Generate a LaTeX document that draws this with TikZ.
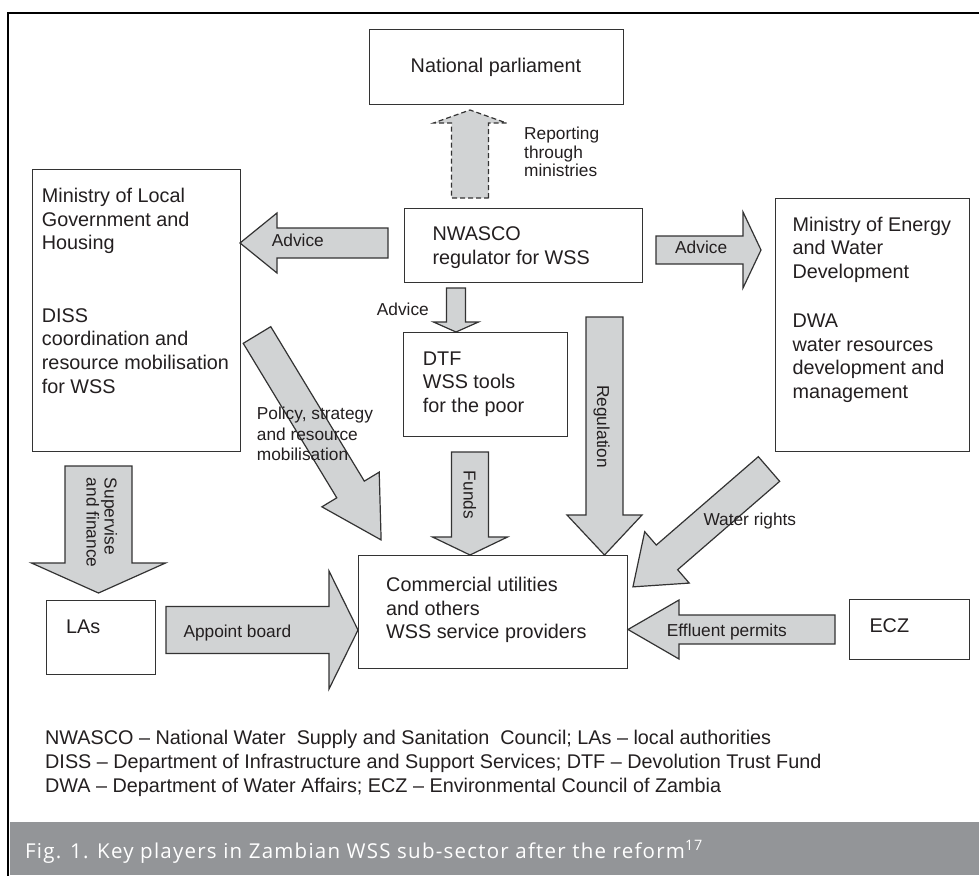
\documentclass[tikz,border=0pt]{standalone}
\usepackage{fontspec}
\setmainfont{Liberation Sans}
\newfontfamily\capfont[LetterSpace=6]{Open Sans}
\definecolor{arrowfill}{HTML}{D1D3D4}
\definecolor{capbar}{HTML}{939598}
\definecolor{linec}{HTML}{333333}
\definecolor{txt}{HTML}{231F20}
% #1 options, #2 tail point, #3 angle, #4 length, #5 shaft half width, #6 head half width, #7 head length
\newcommand\blkarrow[7]{%
  \begin{scope}[shift={#2},rotate=#3]
    \draw[#1] (0,#5) -- ({#4-#7},#5) -- ({#4-#7},#6) -- (#4,0) -- ({#4-#7},-#6) -- ({#4-#7},-#5) -- (0,-#5) -- cycle;
  \end{scope}}
\begin{document}
\begin{tikzpicture}[x=1pt,y=-1pt,
  box/.style={draw=linec, line width=1.2pt, inner sep=0, anchor=north west},
  arr/.style={draw=linec, line width=1.2pt, fill=arrowfill, line join=miter},
  big/.style={font=\fontsize{19.8}{23.6}\selectfont, inner sep=0, align=left, text=txt, anchor=base west},
  small/.style={font=\fontsize{17.3}{19}\selectfont, inner sep=0, align=left, text=txt, anchor=base west},
  vsmall/.style={font=\fontsize{17.3}{18}\selectfont, inner sep=0, align=left, text=txt, anchor=base west, rotate=-90}]
\clip (0,0) rectangle (979,875);
\fill[white] (0,0) rectangle (979,875);
% caption bar
\fill[capbar] (10,822) rectangle (979,875);
% frame
\draw[line width=2.7pt] (8,880) |- (995,13);

% boxes
\node[box, minimum width=254pt, minimum height=75pt] (np) at (369,29) {};
\node[font=\fontsize{19.8}{23.6}\selectfont, text=txt, inner sep=0, anchor=base] (npt) at (496,72) {National parliament};
\node[box, minimum width=238pt, minimum height=74pt] (nw) at (404,208) {};
\node[box, minimum width=208pt, minimum height=282pt] (lgh) at (32,169) {};
\node[box, minimum width=194pt, minimum height=253pt] (mewd) at (775,198) {};
\node[box, minimum width=164pt, minimum height=104pt] (dtf) at (403,332) {};
\node[box, minimum width=269pt, minimum height=113pt] (cu) at (358,555) {};
\node[box, minimum width=109pt, minimum height=74pt] (las) at (46,600) {};
\node[box, minimum width=120pt, minimum height=60pt] (ecz) at (849,599) {};

% block arrows
\blkarrow{arr,dash pattern=on 5pt off 3pt}{(470,198)}{90}{88}{18.5}{36.5}{13}
\blkarrow{arr}{(388,243)}{180}{148}{15}{30}{37}
\blkarrow{arr}{(656,250)}{0}{105}{14}{38}{18}
\blkarrow{arr}{(456,288)}{-90}{44}{9.5}{22.5}{10}
\blkarrow{arr}{(470,452)}{-90}{103}{18.5}{37.5}{18}
\blkarrow{arr}{(604.5,317)}{-90}{238}{18.5}{37.5}{40}
\blkarrow{arr}{(257,335)}{-58.8}{239.6}{16.1}{33.5}{59}
\blkarrow{arr}{(98.5,466)}{-90}{127}{33.5}{67}{30}
\blkarrow{arr}{(166,630)}{0}{192}{23.5}{59}{29}
\blkarrow{arr}{(835,629.5)}{180}{207}{14.5}{29.5}{51}
\blkarrow{arr}{(769,469)}{-139.1}{180}{16.3}{34}{45}

% box texts (anchor = baseline of the last line)
\node[big] (nwt) at (432.3,264.3) {NWASCO\\regulator for WSS};
\node[big] (lght) at (41.7,249.9) {Ministry of Local\\Government and\\Housing};
\node[big] (disst) at (41.7,393.1) {DISS\\coordination and\\resource mobilisation\\for WSS};
\node[big] (mewdt) at (792.3,278.2) {Ministry of Energy\\and Water\\Development};
\node[big] (dwat) at (792.3,398.5) {DWA\\water resources\\development and\\management};
\node[big] (dtft) at (422.7,412.2) {DTF\\WSS tools\\for the poor};
\node[big] (cut) at (386,638.9) {Commercial utilities\\and others\\WSS service providers};
\node[big] (last) at (66,633.3) {LAs};
\node[big] (eczt) at (869.3,632.7) {ECZ};

% arrow labels
\node[small, font=\fontsize{17.3}{18.7}\selectfont] (rept) at (524,176.7) {Reporting\\through\\ministries};
\node[small] (advl) at (271.7,246) {Advice};
\node[small] (advr) at (675,253.3) {Advice};
\node[small] (advd) at (376.7,315.7) {Advice};
\node[small, font=\fontsize{17.3}{20.7}\selectfont] (polt) at (256.7,460.7) {Policy, strategy\\and resource\\mobilisation};
\node[small] (watt) at (703.3,525) {Water rights};
\node[small] (appt) at (183.3,637.7) {Appoint board};
\node[small] (efft) at (666.7,636) {Effluent permits};
\node[vsmall] (fundt) at (463.5,470.7) {Funds};
\node[vsmall] (regt) at (597,385) {Regulation};
\node[vsmall] (supt) at (86.5,477.7) {Supervise\\and finance};

% legend
\node[big, font=\fontsize{19.8}{24}\selectfont] (leg) at (45,792.3) {NWASCO \textendash{} National Water~ Supply and Sanitation~ Council; LAs \textendash{} local authorities\\DISS \textendash{} Department of Infrastructure and Support Services; DTF \textendash{} Devolution Trust Fund\\DWA \textendash{} Department of Water Affairs; ECZ \textendash{} Environmental Council of Zambia};

% caption
\node[anchor=base west, inner sep=0, text=white, font=\capfont\fontsize{20.5}{25}\selectfont] (cap) at (25,858) {Fig. 1. Key players in Zambian WSS sub-sector after the reform\textsuperscript{17}};
\end{tikzpicture}
\end{document}
